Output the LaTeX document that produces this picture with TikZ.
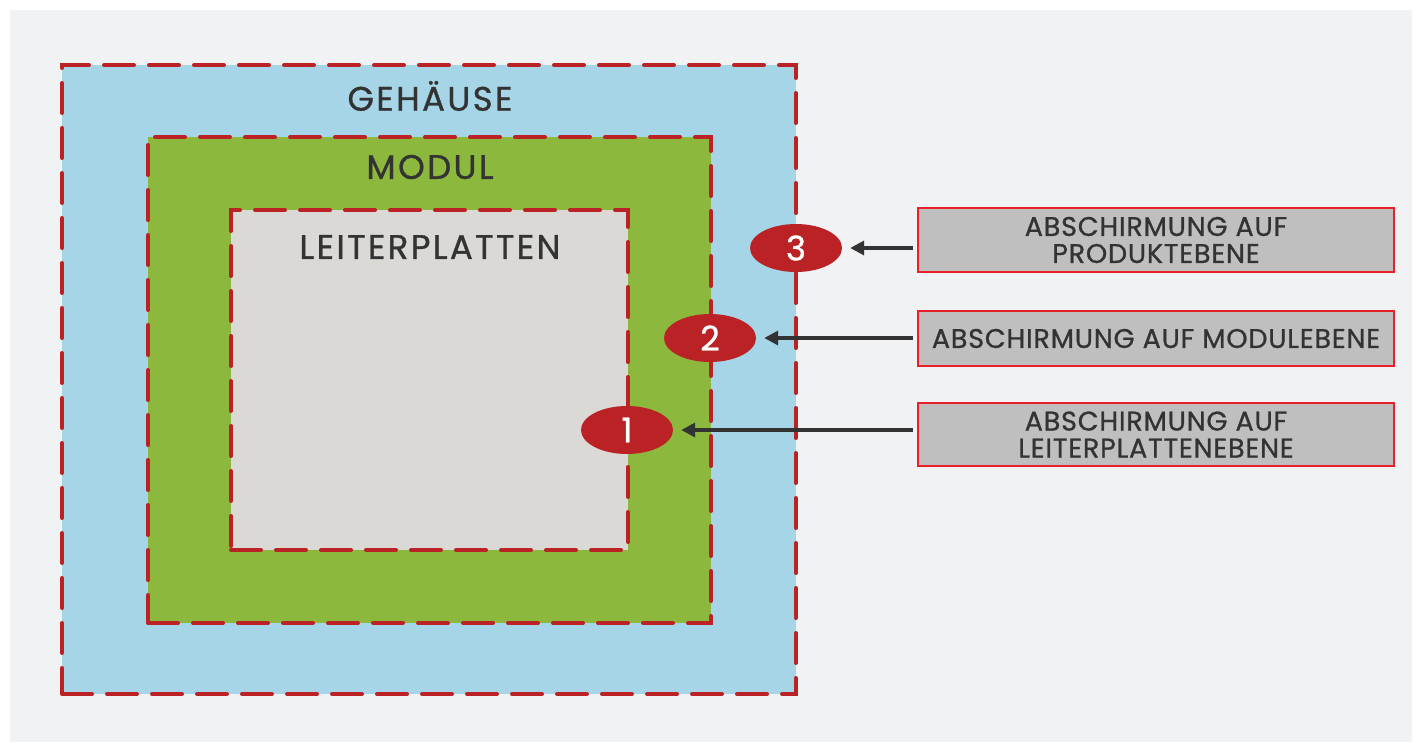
\documentclass[tikz,border=0pt]{standalone}
\usepackage{fontspec}
\setmainfont{Poppins}[FakeBold=0.8]
\newfontfamily\widefont{Poppins}[LetterSpace=3, FakeBold=0.9]
\newfontfamily\widerfont{Poppins}[LetterSpace=7, FakeBold=0.9]
\usetikzlibrary{arrows.meta,shapes.geometric}
\definecolor{bg}{HTML}{F1F2F4}
\definecolor{zblue}{HTML}{A5D5E6}
\definecolor{zgreen}{HTML}{8DB83E}
\definecolor{zgray}{HTML}{DAD9D6}
\definecolor{shred}{HTML}{BB2226}
\definecolor{boxred}{HTML}{E8202A}
\definecolor{boxgray}{HTML}{BFBFBF}
\definecolor{txt}{HTML}{333333}
\begin{document}
\begin{tikzpicture}[x=1pt,y=-1pt,
  zone/.style={rectangle, draw=shred, line width=4pt, line cap=round, dash pattern=on 30pt off 15pt, inner sep=0pt},
  zlabel/.style={text=txt, font=\widerfont\fontsize{34}{36}\selectfont, inner sep=0pt},
  badge/.style={ellipse, fill=shred, text=white, minimum width=92pt, minimum height=48pt, inner sep=0pt, font=\fontsize{34}{36}\selectfont},
  infobox/.style={rectangle, draw=boxred, fill=boxgray, line width=2.5pt, minimum width=476pt, inner sep=0pt, text=txt, align=center, font=\widefont\fontsize{27}{27}\selectfont},
  arr/.style={draw=txt, line width=3.5pt, -{Triangle[length=14pt,width=14pt]}, shorten >=8pt}]
\useasboundingbox (0,0) rectangle (1416,742);
\fill[white] (0,0) rectangle (1416,742);
\fill[bg] (10,10) rectangle (1412,742);
% zones
\node[zone, fill=zblue, minimum width=734pt, minimum height=629pt] (gehaeuse) at (429,379.5) {};
\node[zone, fill=zgreen, minimum width=563pt, minimum height=486pt] (modul) at (429.5,380) {};
\node[zone, fill=zgray, minimum width=397pt, minimum height=340pt] (platten) at (429.5,380) {};
\node[zlabel] (lg) at (430,96) {GEHÄUSE};
\node[zlabel] (lm) at (430,167) {MODUL};
\node[zlabel] (lp) at (430,247) {LEITERPLATTEN};
% badges
\node[badge] (e3) at (796,248) {3};
\node[badge] (e2) at (710,338) {2};
\node[badge] (e1) at (627,430) {1};
% info boxes
\node[infobox, minimum height=64pt] (b3) at (1156,240) {ABSCHIRMUNG AUF\\PRODUKTEBENE};
\node[infobox, minimum height=55pt] (b2) at (1156,338.5) {ABSCHIRMUNG AUF MODULEBENE};
\node[infobox, minimum height=63pt] (b1) at (1156,434.5) {ABSCHIRMUNG AUF\\LEITERPLATTENEBENE};
% arrows
\draw[arr] ([xshift=-4pt]b3.west |- e3.east) -- (e3.east);
\draw[arr] ([xshift=-4pt]b2.west |- e2.east) -- (e2.east);
\draw[arr] ([xshift=-4pt]b1.west |- e1.east) -- (e1.east);
\end{tikzpicture}
\end{document}
